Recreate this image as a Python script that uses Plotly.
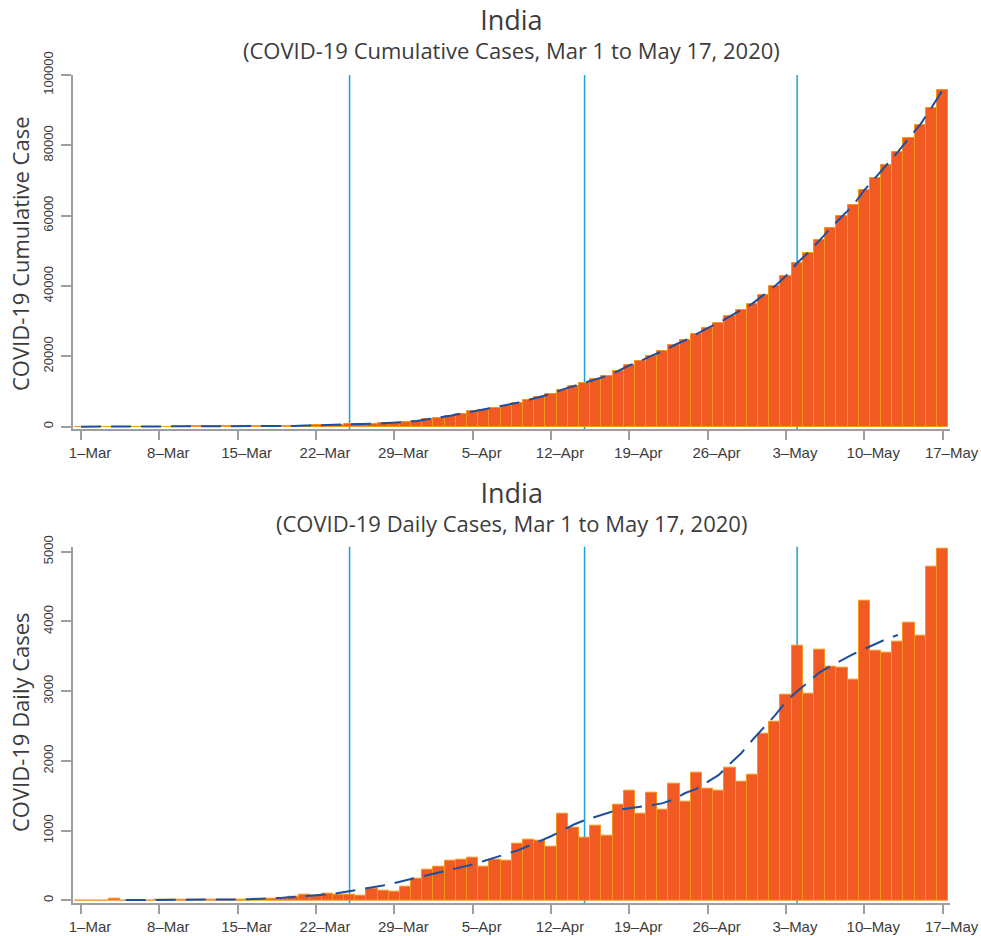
import pandas as pd
import plotly.graph_objects as go

# ---- data -------------------------------------------------------------
dates = pd.date_range("2020-03-01", "2020-05-17", freq="D")

daily_cases = [
    0, 2, 1, 23, 2, 1, 3, 5, 4, 10,
    6, 11, 9, 14, 11, 8, 14, 24, 20, 55,
    80, 65, 98, 77, 88, 72, 163, 140, 127, 195,
    315, 436, 488, 566, 585, 610, 488, 582, 569, 820,
    876, 860, 764, 1250, 1036, 893, 1070, 926, 1371, 1580,
    1242, 1538, 1299, 1667, 1409, 1834, 1609, 1571, 1896, 1705,
    1800, 2397, 2560, 2947, 3649, 2970, 3591, 3345, 3339, 3171,
    4303, 3586, 3558, 3715, 3978, 3801, 4785, 5038,
]

cumulative_cases = [
    0, 2, 3, 26, 28, 29, 32, 37, 41, 51,
    57, 68, 77, 91, 102, 110, 124, 148, 168, 223,
    303, 368, 466, 543, 631, 703, 866, 1006, 1133, 1328,
    1643, 2079, 2567, 3133, 3718, 4328, 4816, 5398, 5967, 6787,
    7663, 8523, 9287, 10537, 11573, 12466, 13536, 14462, 15833, 17413,
    18655, 20193, 21492, 23159, 24568, 26402, 28011, 29582, 31478, 33183,
    34983, 37380, 39940, 42887, 46536, 49506, 53097, 56442, 59781, 62952,
    67255, 70841, 74399, 78114, 82092, 85893, 90678, 95716,
]

# smoothed daily trend (Mar 5 - May 14)
trend_dates = pd.date_range("2020-03-05", "2020-05-14", freq="D")
trend_daily = [
    5, 5, 5, 6, 7, 8, 9, 10, 12, 13,
    15, 18, 22, 28, 38, 50, 60, 72, 88, 105,
    130, 158, 180, 215, 250, 288, 320, 355, 393, 430,
    470, 515, 565, 620, 665, 715, 780, 845, 920, 1000,
    1085, 1150, 1200, 1260, 1300, 1320, 1340, 1365, 1395, 1450,
    1540, 1600, 1700, 1800, 1960, 2110, 2300, 2470, 2650, 2850,
    3000, 3130, 3270, 3360, 3450, 3530, 3605, 3680, 3750, 3806,
]

# lockdown phase start dates
lockdown_dates = ["2020-03-25", "2020-04-15", "2020-05-04"]

tick_dates = pd.date_range("2020-03-01", "2020-05-17", freq="7D")
tick_labels = ["1–Mar", "8–Mar", "15–Mar", "22–Mar", "29–Mar", "5–Apr",
               "12–Apr", "19–Apr", "26–Apr", "3–May", "10–May", "17–May"]

cum_ticks = [0, 20000, 40000, 60000, 80000, 100000]
daily_ticks = [0, 1000, 2000, 3000, 4000, 5000]

# ---- styling ------------------------------------------------------------
BAR_FILL = "#F15A22"
BAR_EDGE = "#F7941D"
TREND = "#1F4E9C"
LOCK = "#1A9FDB"
AXIS = "#9E9E9E"
TXT = "#3C3C3C"
TITLE_FONT = "Open Sans"
TICK_FONT = "Liberation Sans"

W, H = 981, 936
ML, MR, MT, MB = 73, 31, 75, 33
PH = H - MT - MB  # plot region height in px


def py(p):
    """pixel row -> paper y"""
    return (H - MB - p) / PH


fig = go.Figure()

# cumulative panel
fig.add_trace(go.Bar(x=dates, y=cumulative_cases, xaxis="x", yaxis="y",
                     marker=dict(color=BAR_FILL, line=dict(color=BAR_EDGE, width=1)),
                     showlegend=False))
fig.add_trace(go.Scatter(x=dates, y=cumulative_cases, xaxis="x", yaxis="y",
                         mode="lines", line=dict(color=TREND, width=2, dash="20px,10px"),
                         showlegend=False))

# daily panel
fig.add_trace(go.Bar(x=dates, y=daily_cases, xaxis="x2", yaxis="y2",
                     marker=dict(color=BAR_FILL, line=dict(color=BAR_EDGE, width=1)),
                     showlegend=False))
fig.add_trace(go.Scatter(x=trend_dates, y=trend_daily, xaxis="x2", yaxis="y2",
                         mode="lines", line=dict(color=TREND, width=2, dash="20px,10px"),
                         showlegend=False))

x_range = ["2020-02-29 06:50", "2020-05-17 15:50"]

xcommon = dict(
    type="date", range=x_range, tickmode="array",
    tickvals=list(tick_dates), ticktext=tick_labels,
    showline=True, linecolor=AXIS, linewidth=1.5,
    ticks="outside", ticklen=9, tickwidth=1.5, tickcolor=AXIS,
    showgrid=False, zeroline=False,
    tickfont=dict(family=TICK_FONT, size=15, color=TXT),
    ticklabelshift=9,
)
ycommon = dict(
    showline=True, linecolor=AXIS, linewidth=1.5,
    ticks="outside", ticklen=10, tickwidth=1.5, tickcolor=AXIS,
    showgrid=False, zeroline=False, tickangle=-90,
    tickfont=dict(family=TICK_FONT, size=13, color=TXT),
    ticklabelstandoff=3,
)

top_lo = py(429.3)
bot_hi = py(546.7)

fig.update_layout(
    width=W, height=H,
    margin=dict(l=ML, r=MR, t=MT, b=MB, autoexpand=False),
    paper_bgcolor="white", plot_bgcolor="white",
    bargap=0,
    xaxis=dict(domain=[0, 1], anchor="y", **xcommon),
    yaxis=dict(domain=[top_lo, 1], anchor="x", range=[-743, 100000],
               tickmode="array", tickvals=cum_ticks,
               ticktext=[str(v) for v in cum_ticks], **ycommon),
    xaxis2=dict(domain=[0, 1], anchor="y2", **xcommon),
    yaxis2=dict(domain=[0, bot_hi], anchor="x2", range=[-37, 5072],
                tickmode="array", tickvals=daily_ticks,
                ticktext=[str(v) for v in daily_ticks], **ycommon),
)

# lockdown markers, drawn beneath the bars
for xa, ya in (("x", "y"), ("x2", "y2")):
    for d in lockdown_dates:
        fig.add_shape(type="line", xref=xa, yref=f"{ya} domain",
                      x0=d, x1=d, y0=0, y1=1, layer="below",
                      line=dict(color=LOCK, width=1.5))

# two-line panel titles
titles = [
    ("India", "(COVID-19 Cumulative Cases, Mar 1 to May 17, 2020)", 33),
    ("India", "(COVID-19 Daily Cases, Mar 1 to May 17, 2020)", 506),
]
for main, sub, yc in titles:
    fig.add_annotation(text=f"<span style='font-size:27px'>{main}</span><br>{sub}",
                       xref="paper", yref="paper", x=0.5, y=py(yc),
                       xanchor="center", yanchor="middle", align="center",
                       showarrow=False, borderpad=0,
                       font=dict(family=TITLE_FONT, size=22, color=TXT))

# y-axis titles
for text, yc in (("COVID-19 Cumulative Case", py(254)), ("COVID-19 Daily Cases", py(722))):
    fig.add_annotation(text=text, xref="paper", yref="paper",
                       x=(20 - ML) / (W - ML - MR), y=yc, textangle=-90,
                       xanchor="center", yanchor="middle", showarrow=False,
                       font=dict(family=TITLE_FONT, size=22, color=TXT))

fig.write_html("out.html")
